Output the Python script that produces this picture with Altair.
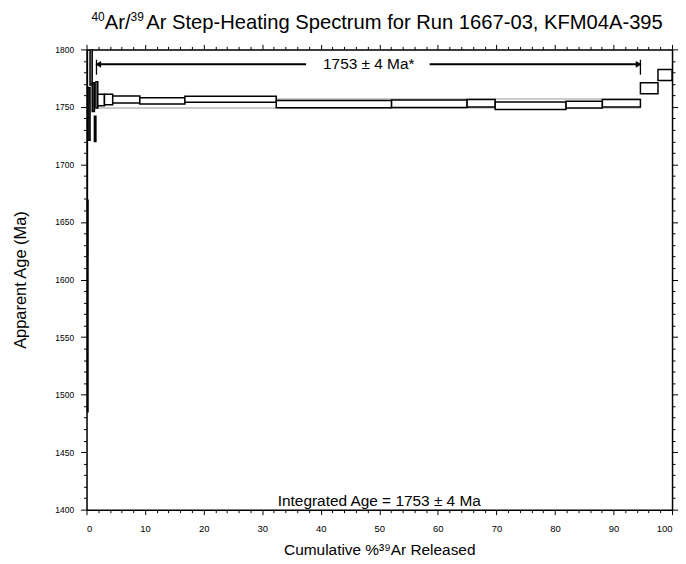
import altair as alt
import pandas as pd

# ---- data ----
step_x0 = [0.00, 0.15, 0.25, 0.60, 0.97, 1.35, 1.60, 1.92, 3.06, 4.47, 9.1, 16.8, 32.4, 52.1, 65.0, 69.8, 81.9, 88.1, 94.6, 97.6]
step_x1 = [0.15, 0.25, 0.60, 0.97, 1.35, 1.60, 1.92, 3.06, 4.47, 9.1, 16.8, 32.4, 52.1, 65.0, 69.8, 81.9, 88.1, 94.6, 97.6, 100.0]
age_lo = [1620, 1485, 1721, 1769, 1746, 1720, 1749, 1751, 1752, 1753.5, 1752.5, 1754.0, 1749.3, 1749.5, 1750.0, 1747.8, 1749.0, 1750.0, 1761.4, 1773.0]
age_hi = [1800, 1669, 1767, 1800, 1771, 1742, 1772, 1761, 1761, 1759.5, 1758.0, 1759.3, 1755.5, 1756.0, 1756.5, 1754.2, 1755.0, 1756.5, 1771.0, 1782.5]
step_fill = ["white", "white", "#444", "#bbb", "#444", "#999", "white", "white", "white", "white", "white", "white",
             "white", "white", "white", "white", "white", "white", "white", "white"]

plateau_x = [2.0, 94.5]
plateau_age = [1749, 1757]
arrow_x0 = [2.0, 58.6]
arrow_x1 = [37.5, 94.3]
arrow_y = 1787
end_tick_x = [1.7, 94.6]
end_tick_lo = 1778
end_tick_hi = 1791
plateau_label = "1753 ± 4 Ma*"
plateau_label_x = 48.2
integrated_label = "Integrated Age = 1753 ± 4 Ma"

title_parts = ["40", "Ar/", "39", "Ar Step-Heating Spectrum for Run 1667-03, KFM04A-395"]
title_sizes = [12, 20.3, 12, 20.3]
title_is_sup = [True, False, True, False]

x_ticks = list(range(0, 101, 2))
y_ticks = list(range(1400, 1801, 10))

FONT = "Liberation Sans"

steps = pd.DataFrame({"x0": step_x0, "x1": step_x1, "lo": age_lo, "hi": age_hi, "fill": step_fill})
band = pd.DataFrame({"x0": [plateau_x[0]], "x1": [plateau_x[1]], "lo": [plateau_age[0]], "hi": [plateau_age[1]]})
arrows = pd.DataFrame({"x0": arrow_x0, "x1": arrow_x1, "y": [arrow_y, arrow_y]})
heads = pd.DataFrame({"x": [arrow_x0[0], arrow_x1[1]], "y": [arrow_y, arrow_y],
                      "shape": ["triangle-left", "triangle-right"]})
endt = pd.DataFrame({"x": end_tick_x, "lo": [end_tick_lo] * 2, "hi": [end_tick_hi] * 2})
labels = pd.DataFrame({"x": [plateau_label_x], "y": [arrow_y], "t": [plateau_label]})
integ = pd.DataFrame({"x": [50.0], "y": [1400], "t": [integrated_label]})

xs = alt.Scale(domain=[0, 100], nice=False, zero=False)
ys = alt.Scale(domain=[1400, 1800], nice=False, zero=False)

major_x = alt.Axis(
    orient="bottom", values=x_ticks, grid=False, format="d",
    labelExpr="datum.value % 10 === 0 ? datum.label : ''",
    tickSize={"condition": {"test": "datum.value % 10 === 0", "value": 5}, "value": 3},
    labelFont=FONT, labelFontSize=9.5, labelColor="black", labelPadding=9,
    title="Cumulative %³⁹Ar Released", titleFont=FONT, titleFontSize=15.5,
    titleFontWeight="normal", titleColor="black", titlePadding=10,
    domainColor="black", domainWidth=1.5, tickColor="black", tickWidth=1,
)
major_y = alt.Axis(
    orient="left", values=y_ticks, grid=False, format="d",
    labelExpr="datum.value % 50 === 0 ? datum.label : ''",
    tickSize={"condition": {"test": "datum.value % 50 === 0", "value": 6}, "value": 3},
    labelFont=FONT, labelFontSize=8.5, labelColor="black", labelPadding=7,
    title="Apparent Age (Ma)", titleFont=FONT, titleFontSize=16.5,
    titleFontWeight="normal", titleColor="black", titlePadding=26,
    domainColor="black", domainWidth=1.5, tickColor="black", tickWidth=1,
)
top_x = alt.Axis(
    orient="top", values=x_ticks, grid=False, labels=False, title=None,
    tickSize={"condition": {"test": "datum.value % 10 === 0", "value": 5}, "value": 3},
    domainColor="black", domainWidth=1.5, tickColor="black", tickWidth=1,
)
right_y = alt.Axis(
    orient="right", values=y_ticks, grid=False, labels=False, title=None,
    tickSize={"condition": {"test": "datum.value % 50 === 0", "value": 6}, "value": 3},
    domainColor="black", domainWidth=1.5, tickColor="black", tickWidth=1,
)

band_layer = alt.Chart(band).mark_rect(fill="white", stroke="#bbbbbb", strokeWidth=1.5).encode(
    x=alt.X("x0:Q", scale=xs, axis=major_x),
    x2="x1:Q",
    y=alt.Y("lo:Q", scale=ys, axis=major_y),
    y2="hi:Q",
)

step_layer = alt.Chart(steps).mark_rect(stroke="black", strokeWidth=1.5, clip=True).encode(
    x=alt.X("x0:Q", scale=xs, axis=top_x),
    x2="x1:Q",
    y=alt.Y("lo:Q", scale=ys, axis=right_y),
    y2="hi:Q",
    fill=alt.Fill("fill:N", scale=None),
)

arrow_layer = alt.Chart(arrows).mark_rule(color="black", strokeWidth=2).encode(
    x=alt.X("x0:Q", scale=xs, axis=None), x2="x1:Q",
    y=alt.Y("y:Q", scale=ys, axis=None),
)
head_layer = alt.Chart(heads).mark_point(filled=True, color="black", size=45, opacity=1).encode(
    x=alt.X("x:Q", scale=xs, axis=None),
    y=alt.Y("y:Q", scale=ys, axis=None),
    shape=alt.Shape("shape:N", scale=None),
)
endtick_layer = alt.Chart(endt).mark_rule(color="black", strokeWidth=1.3).encode(
    x=alt.X("x:Q", scale=xs, axis=None),
    y=alt.Y("lo:Q", scale=ys, axis=None), y2="hi:Q",
)
label_layer = alt.Chart(labels).mark_text(font=FONT, fontSize=15.5, color="black").encode(
    x=alt.X("x:Q", scale=xs, axis=None),
    y=alt.Y("y:Q", scale=ys, axis=None),
    text="t:N",
)
integ_layer = alt.Chart(integ).mark_text(font=FONT, fontSize=15.5, color="black",
                                         baseline="bottom", dy=-1).encode(
    x=alt.X("x:Q", scale=xs, axis=None),
    y=alt.Y("y:Q", scale=ys, axis=None),
    text="t:N",
)

# title pieces (superscripts drawn as smaller raised text), laid out left to right
CHAR_W = 0.556  # digit advance width in em (Arial metrics)
def text_width(s, size):
    widths = {"A": 0.667, "r": 0.333, "/": 0.278}
    return sum(widths.get(c, CHAR_W) for c in s) * size

title_layers = []
cursor = 5.0
for part, fs, sup in zip(title_parts, title_sizes, title_is_sup):
    if not sup and part.startswith("Ar S"):
        cursor += 2.5
    title_layers.append(
        alt.Chart(pd.DataFrame({"t": [part]})).mark_text(
            font=FONT, fontSize=fs, color="black", align="left", baseline="alphabetic"
        ).encode(x=alt.value(cursor), y=alt.value(-29 if sup else -21), text="t:N")
    )
    cursor += text_width(part, fs)

chart = alt.layer(
    band_layer, step_layer, arrow_layer, head_layer, endtick_layer, label_layer, integ_layer,
    *title_layers
).resolve_axis(x="independent", y="independent").properties(
    width=589, height=463,
    autosize=alt.AutoSizeParams(type="none"),
    padding={"left": 79, "top": 40, "right": 6, "bottom": 50},
).configure_view(stroke=None).configure(background="white")

chart.save("out.html", embed_options={"renderer": "svg", "actions": False})
